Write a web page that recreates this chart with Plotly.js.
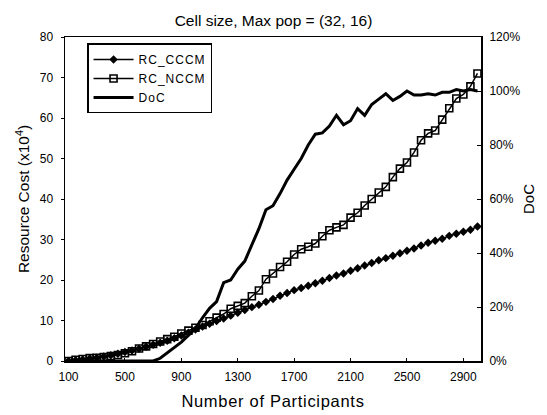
<!DOCTYPE html>
<html>
<head>
<meta charset="utf-8">
<script src="https://cdn.plot.ly/plotly-3.0.1.min.js"></script>
<style>
html,body{margin:0;padding:0;background:#fff;}
#chart{width:547px;height:415px;}
.xtitle{letter-spacing:0.7px;}
.legendtext{letter-spacing:1px;}
</style>
</head>
<body>
<div id="chart"></div>
<script>
const participants = [100,150,200,250,300,350,400,450,500,550,600,650,700,750,800,850,900,950,1000,1050,1100,1150,1200,1250,1300,1350,1400,1450,1500,1550,1600,1650,1700,1750,1800,1850,1900,1950,2000,2050,2100,2150,2200,2250,2300,2350,2400,2450,2500,2550,2600,2650,2700,2750,2800,2850,2900,2950,3000];

const rcCCCM = [0,0.2,0.4,0.6,0.8,1.1,1.4,1.8,2.2,2.6,3.0,3.5,4.0,4.5,5.0,5.6,6.3,7.0,7.8,8.5,9.2,9.9,10.5,11.2,11.9,12.6,13.3,13.9,14.6,15.3,16.1,16.8,17.5,18.0,18.6,19.2,19.8,20.5,21.1,21.6,22.3,22.9,23.6,24.2,24.9,25.4,26.0,26.6,27.2,27.8,28.5,29.2,29.7,30.2,30.9,31.4,31.9,32.4,33.2];

const rcNCCM = [0,0.3,0.5,0.7,0.8,1.0,1.2,1.5,1.9,2.4,3.1,3.6,4.2,4.8,5.4,6.0,6.8,7.5,8.2,8.9,9.8,10.7,11.6,12.9,13.6,14.3,16.0,17.4,20.2,21.6,23.2,24.5,26.3,27.6,28.2,29.0,30.8,32.3,33.0,33.6,35.4,36.6,38.4,40.0,41.6,43.0,45.4,47.5,49.0,51.5,54.5,56.2,56.9,59.6,62.4,64.8,65.8,67.8,71.0];

const docPct = [0,0,0,0,0,0,0,0,0,0,0,0,0,1,3,5,7,9.5,12,16,19.5,22,29,30,34,37,43,49,56,57.5,62,67,71,75,80,84,84.5,87,91,87.5,89,93.5,91,95,97,99,96.5,98,100,98.5,98.5,99,98.5,99.5,99.5,100.5,100,100.5,100];

const xTicks = [100,500,900,1300,1700,2100,2500,2900];

const FONT = 'Liberation Sans, Arial, sans-serif';

const traces = [
  {
    x: participants, y: rcCCCM, name: 'RC_CCCM', type: 'scatter', mode: 'lines+markers',
    line: {color: '#000', width: 1.5},
    marker: {symbol: 'diamond', size: 6.5, color: '#000'},
    yaxis: 'y'
  },
  {
    x: participants, y: rcNCCM, name: 'RC_NCCM', type: 'scatter', mode: 'lines+markers',
    line: {color: '#000', width: 1.5},
    marker: {symbol: 'square-open', size: 7, color: '#000', line: {width: 1.6, color: '#000'}},
    yaxis: 'y'
  },
  {
    x: participants, y: docPct, name: 'DoC', type: 'scatter', mode: 'lines',
    line: {color: '#000', width: 3},
    yaxis: 'y2'
  }
];

const layout = {
  width: 547, height: 415,
  margin: {l: 65, r: 66, t: 37, b: 54},
  paper_bgcolor: '#fff', plot_bgcolor: '#fff',
  font: {family: FONT, color: '#000', size: 12},
  showlegend: true,
  title: {text: 'Cell size, Max pop = (32, 16)', font: {size: 15.5, family: FONT, color: '#000'}, x: 0.5, xanchor: 'center', y: 0.95, yanchor: 'middle'},
  xaxis: {
    range: [75, 3025], tickvals: xTicks, ticktext: xTicks.map(String),
    showgrid: false, zeroline: false,
    showline: true, linecolor: '#000', linewidth: 1.5, mirror: true,
    ticks: 'inside', ticklen: 3, tickcolor: '#000',
    ticklabelstandoff: 4,
    tickfont: {size: 12, family: FONT},
    title: {text: 'Number of Participants', font: {size: 16.5, family: FONT}, standoff: 12}
  },
  yaxis: {
    range: [0, 80], dtick: 10,
    showgrid: false, zeroline: false,
    showline: true, linecolor: '#000', linewidth: 1.5,
    ticks: 'outside', ticklen: 3, tickcolor: '#000',
    ticklabelstandoff: 5,
    tickfont: {size: 12, family: FONT},
    title: {text: 'Resource Cost (x10<sup>4</sup>)', font: {size: 15.5, family: FONT}, standoff: 6}
  },
  yaxis2: {
    range: [0, 120], dtick: 20, ticksuffix: '%',
    overlaying: 'y', side: 'right',
    showgrid: false, zeroline: false,
    showline: true, linecolor: '#000', linewidth: 2,
    ticks: 'inside', ticklen: 4, tickcolor: '#000',
    ticklabelstandoff: 4,
    tickfont: {size: 12, family: FONT},
    title: {text: 'DoC', font: {size: 15, family: FONT}, standoff: 4}
  },
  legend: {
    x: 0.053, y: 0.98, xanchor: 'left', yanchor: 'top',
    bgcolor: '#fff', bordercolor: '#000', borderwidth: 1.5,
    font: {size: 12, family: FONT},
    tracegroupgap: 0, itemwidth: 40
  }
};

Plotly.newPlot('chart', traces, layout, {displayModeBar: false, staticPlot: true});
</script>
</body>
</html>
